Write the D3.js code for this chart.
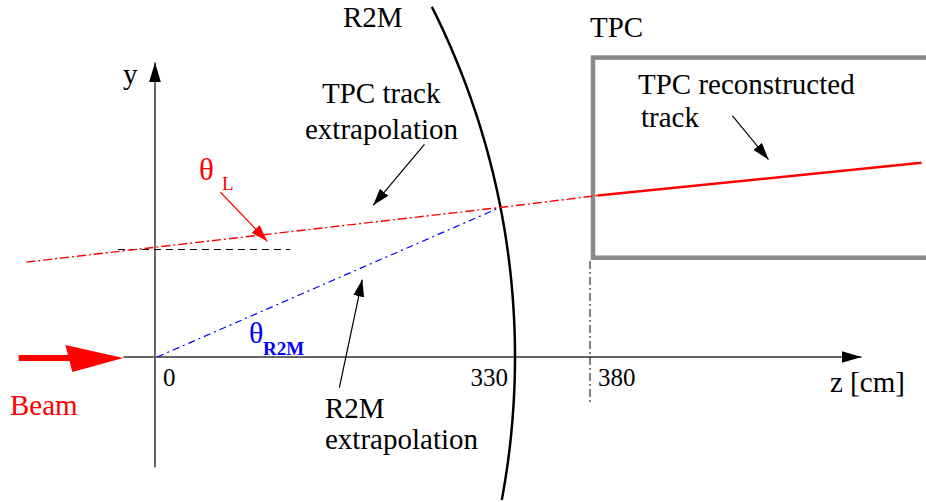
<!DOCTYPE html>
<html>
<head>
<meta charset="utf-8">
<script src="https://cdn.jsdelivr.net/npm/d3@7"></script>
<style>
  body { margin: 0; background: #fff; }
</style>
</head>
<body>
<div id="sketch"></div>
<script>
////////////////////////////////////////////////////////////////////////
// Geometry of the sketch (z along the beam in cm, y transverse)

let zTicks = [0, 330, 380];
let zTickLabels = ["0", "330", "380"];
let zAxisExtent = [-29, 561];
let yAxisExtent = [-101, 270];
let beamExtent = [-125, -29];

let r2mZ = 330;             // R2M sphere crosses the beam axis here
let r2mRadius = 714;
let r2mArcY = [-131, 321];

let tpcZ = 380;
let tpcBoxZ = [382, 660];
let tpcBoxY = [91, 274.5];
let tpcEdgeY = [88, -44];

let tpcTrack = [[385, 148], [601, 178]];
let tpcExtrapolation = [[-118, 87], [316, 137], [385, 148]];
let r2mExtrapolation = [[2, 0], [316, 137]];
let thetaLRef = [[-34, 99], [124, 99]];

// pointer arrows: [from, to]
let pointerTheta = [[60, 151], [103, 106]];
let pointerTpcExtrap = [[247, 195], [200, 139]];
let pointerR2M = [[169, -28], [190, 71]];
let pointerTpcTrack = [[475, 221], [499, 181]];

////////////////////////////////////////////////////////////////////////
// SVG setup

let width = 926, height = 502;

let svg = d3.select("#sketch")
  .append("svg")
  .attr("width", width).attr("height", height)
  .attr("font-family", "'Liberation Serif', 'Times New Roman', Times, 'DejaVu Serif', serif");

let zScale = d3.scaleLinear().domain(zTicks).range([155, 515, 590]);
let yScale = d3.scaleLinear().domain([0, 100]).range([357, 357 - 109.09]);

let line = d3.line().x(d => zScale(d[0])).y(d => yScale(d[1]));

// arrowhead markers
let defs = svg.append("defs");
function marker(id, color, len, half) {
  defs.append("marker")
    .attr("id", id)
    .attr("markerUnits", "userSpaceOnUse")
    .attr("viewBox", `0 ${-half} ${len} ${2 * half}`)
    .attr("refX", len).attr("refY", 0)
    .attr("markerWidth", len).attr("markerHeight", 2 * half)
    .attr("orient", "auto")
    .append("path")
    .attr("d", `M0,${-half}L${len},0L0,${half}Z`)
    .style("fill", color);
}
marker("headAxis", "#000", 20, 6);
marker("headBlack", "#000", 17, 5.5);
marker("headRed", "#ff0000", 17, 5.5);

function label(x, y, str, size, color) {
  return svg.append("text")
    .attr("x", x).attr("y", y)
    .style("font-size", size + "px")
    .style("fill", color || "#000")
    .text(str);
}

////////////////////////////////////////////////////////////////////////
// Axes

svg.append("path")
  .attr("d", line([[zAxisExtent[0], 0], [zAxisExtent[1], 0]]))
  .style("stroke", "#666").style("stroke-width", 2)
  .attr("marker-end", "url(#headAxis)");

svg.append("path")
  .attr("d", d3.line()([[zScale(0), yScale(yAxisExtent[0])], [zScale(0), yScale(yAxisExtent[1])]]))
  .style("stroke", "#666").style("stroke-width", 2)
  .attr("marker-end", "url(#headAxis)");

// tick labels
let tickDx = [8, -7, 8];
let tickAnchor = ["start", "end", "start"];
svg.selectAll(".ticklabel")
  .data(zTicks)
  .enter().append("text")
  .attr("class", "ticklabel")
  .attr("x", (d, i) => zScale(d) + tickDx[i])
  .attr("y", 386)
  .attr("text-anchor", (d, i) => tickAnchor[i])
  .style("font-size", "25px")
  .text((d, i) => zTickLabels[i]);

label(830, 392, "z [cm]", 29);
label(123, 84, "y", 29);

// beam arrow
let beamY = yScale(0) + 1;
let beamTip = zScale(beamExtent[1]);
svg.append("path")
  .attr("d", d3.line()([[zScale(beamExtent[0]), beamY], [beamTip - 50, beamY]]))
  .style("stroke", "#ff0000").style("stroke-width", 6);
svg.append("path")
  .attr("d", `M${beamTip},${beamY}L${beamTip - 58},${beamY - 13}L${beamTip - 51},${beamY + 14}Z`)
  .style("fill", "#ff0000");
label(10, 415, "Beam", 29, "#ff0000");

////////////////////////////////////////////////////////////////////////
// Detectors

// R2M sphere (circle centred on the beam axis)
let r2mCentre = r2mZ - r2mRadius;
let arcPts = d3.range(r2mArcY[0], r2mArcY[1] + 0.5, 2)
  .map(y => [r2mCentre + Math.sqrt(r2mRadius * r2mRadius - y * y), y]);
svg.append("path")
  .attr("d", line.curve(d3.curveBasis)(arcPts))
  .style("fill", "none").style("stroke", "#000").style("stroke-width", 2.5);
line.curve(d3.curveLinear);
label(343, 27, "R2M", 29);

// TPC volume
svg.append("rect")
  .attr("x", zScale(tpcBoxZ[0]))
  .attr("y", yScale(tpcBoxY[1]))
  .attr("width", zScale(tpcBoxZ[1]) - zScale(tpcBoxZ[0]))
  .attr("height", yScale(tpcBoxY[0]) - yScale(tpcBoxY[1]))
  .style("fill", "none").style("stroke", "#8c8888").style("stroke-width", 4.5);
label(590, 37, "TPC", 29);

svg.append("path")
  .attr("d", line([[tpcZ, tpcEdgeY[0]], [tpcZ, tpcEdgeY[1]]]))
  .style("stroke", "#000").style("stroke-width", 1)
  .style("stroke-dasharray", "8,3,2,3");

////////////////////////////////////////////////////////////////////////
// Tracks

svg.append("path")
  .attr("d", line(thetaLRef))
  .attr("transform", "translate(0,0.5)")
  .style("stroke", "#000").style("stroke-width", 1)
  .style("stroke-dasharray", "7,5");

svg.append("path")
  .attr("d", line(tpcExtrapolation))
  .style("fill", "none").style("stroke", "#ff0000").style("stroke-width", 1.4)
  .style("stroke-dasharray", "9,3,2,3");

svg.append("path")
  .attr("d", line(r2mExtrapolation))
  .style("fill", "none").style("stroke", "#0000ff").style("stroke-width", 1.2)
  .style("stroke-dasharray", "7,4,2,4");

svg.append("path")
  .attr("d", line(tpcTrack))
  .style("fill", "none").style("stroke", "#ff0000").style("stroke-width", 2.5);

////////////////////////////////////////////////////////////////////////
// Annotations

function pointer(p, head, color) {
  svg.append("path")
    .attr("d", line(p))
    .style("stroke", color).style("stroke-width", 1.2)
    .attr("marker-end", `url(#${head})`);
}
pointer(pointerTheta, "headRed", "#ff0000");
pointer(pointerTpcExtrap, "headBlack", "#000");
pointer(pointerR2M, "headBlack", "#000");
pointer(pointerTpcTrack, "headBlack", "#000");

// theta_L
let tl = label(199, 180, null, 31, "#ff0000");
tl.append("tspan").text("θ");
tl.append("tspan").attr("x", 222).attr("y", 190).style("font-size", "19px").text("L");

// theta_R2M
let tr = label(249, 343, null, 30, "#0000ff");
tr.append("tspan").text("θ");
tr.append("tspan").attr("x", 263).attr("y", 355)
  .style("font-size", "19px").style("font-weight", "bold").text("R2M");

label(322, 103, "TPC track", 29);
label(305, 139, "extrapolation", 29);

label(325, 418, "R2M", 29);
label(325, 449, "extrapolation", 29);

label(638, 94, "TPC reconstructed", 29);
label(641, 127, "track", 29);
</script>
</body>
</html>
